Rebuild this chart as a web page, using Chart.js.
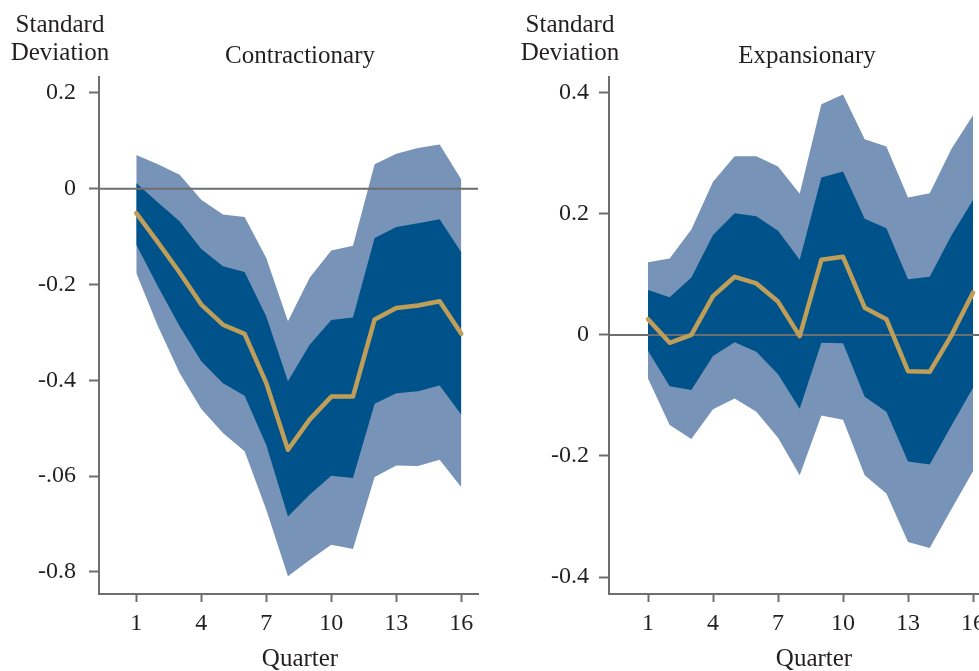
<!DOCTYPE html>
<html>
<head>
<meta charset="utf-8">
<script src="https://cdn.jsdelivr.net/npm/chart.js@4"></script>
<style>
  html, body { margin: 0; padding: 0; width: 979px; height: 671px; overflow: hidden; background: #fff; }
  body { position: relative; font-family: "Liberation Serif", serif; color: #231f20; }
  canvas { position: absolute; top: 0; }
  .lbl { position: absolute; font-size: 25px; line-height: 28px; text-align: center; white-space: nowrap; }
</style>
</head>
<body>
<canvas id="contractionary" width="490" height="671" style="left:0"></canvas>
<canvas id="expansionary" width="490" height="671" style="left:510px"></canvas>

<div class="lbl" style="left:0;width:120px;top:10px">Standard<br>Deviation</div>
<div class="lbl" style="left:200px;width:200px;top:41px">Contractionary</div>
<div class="lbl" style="left:200px;width:200px;top:644px">Quarter</div>

<div class="lbl" style="left:510px;width:120px;top:10px">Standard<br>Deviation</div>
<div class="lbl" style="left:707px;width:200px;top:41px">Expansionary</div>
<div class="lbl" style="left:714px;width:200px;top:644px">Quarter</div>

<script>
// quarters after the shock
const quarters = [1, 2, 3, 4, 5, 6, 7, 8, 9, 10, 11, 12, 13, 14, 15, 16];
const xTicks = [1, 4, 7, 10, 13, 16];

// contractionary shock: response and confidence bands
const conOuterUpper = [0.070, 0.051, 0.029, -0.023, -0.054, -0.059, -0.145, -0.277, -0.186, -0.129, -0.119, 0.051, 0.073, 0.085, 0.092, 0.019];
const conInnerUpper = [0.012, -0.029, -0.068, -0.126, -0.162, -0.174, -0.267, -0.402, -0.326, -0.274, -0.269, -0.103, -0.080, -0.072, -0.064, -0.133];
const conResponse   = [-0.051, -0.112, -0.175, -0.242, -0.284, -0.303, -0.406, -0.545, -0.482, -0.434, -0.434, -0.273, -0.249, -0.244, -0.235, -0.303];
const conInnerLower = [-0.117, -0.204, -0.287, -0.360, -0.406, -0.432, -0.535, -0.684, -0.639, -0.599, -0.604, -0.449, -0.427, -0.423, -0.411, -0.472];
const conOuterLower = [-0.176, -0.287, -0.385, -0.460, -0.510, -0.548, -0.670, -0.809, -0.775, -0.743, -0.752, -0.602, -0.578, -0.579, -0.566, -0.623];
const conYTicks  = [0.2, 0, -0.2, -0.4, -0.6, -0.8];
const conYLabels = ["0.2", "0", "-0.2", "-0.4", "-.06", "-0.8"];

// expansionary shock
const expOuterUpper = [0.120, 0.126, 0.174, 0.253, 0.295, 0.295, 0.278, 0.233, 0.381, 0.397, 0.323, 0.311, 0.227, 0.234, 0.307, 0.363];
const expInnerUpper = [0.074, 0.062, 0.095, 0.165, 0.201, 0.196, 0.172, 0.124, 0.260, 0.270, 0.192, 0.176, 0.092, 0.096, 0.164, 0.223];
const expResponse   = [0.026, -0.013, 0.000, 0.064, 0.096, 0.085, 0.055, -0.002, 0.124, 0.129, 0.045, 0.026, -0.060, -0.061, -0.001, 0.070];
const expInnerLower = [-0.026, -0.085, -0.091, -0.035, -0.012, -0.028, -0.065, -0.122, -0.013, -0.014, -0.102, -0.127, -0.209, -0.214, -0.150, -0.087];
const expOuterLower = [-0.072, -0.149, -0.172, -0.123, -0.105, -0.127, -0.170, -0.232, -0.133, -0.140, -0.232, -0.262, -0.342, -0.352, -0.288, -0.225];
const expYTicks  = [0.4, 0.2, 0, -0.2, -0.4];
const expYLabels = ["0.4", "0.2", "0", "-0.2", "-0.4"];

const LIGHT = "#7893b8";
const DARK = "#00538a";
const GOLD = "#be9e58";
const GREY = "#6d6e71";
const TEXT = "#231f20";

const pts = vals => vals.map((v, i) => ({ x: quarters[i], y: v }));

// grey line at zero, drawn under the response line
const zeroLine = {
  id: "zeroLine",
  beforeDatasetDraw(chart, args) {
    if (args.index !== 4) return;
    const y = chart.scales.y.getPixelForValue(0);
    const ctx = chart.ctx;
    ctx.save();
    ctx.strokeStyle = GREY;
    ctx.lineWidth = 2;
    ctx.beginPath();
    ctx.moveTo(chart.chartArea.left, y);
    ctx.lineTo(chart.chartArea.right, y);
    ctx.stroke();
    ctx.restore();
  }
};

function band(data, fill, color, order) {
  return {
    data: pts(data), fill: fill, backgroundColor: color,
    borderWidth: 0, pointRadius: 0, tension: 0, order: order
  };
}

function makeChart(id, s, yMin, yMax, xMin, xMax, yTicks, yLabels, labelPad) {
  new Chart(document.getElementById(id), {
    type: "line",
    data: {
      datasets: [
        band(s[0], 1, LIGHT, 4),
        band(s[4], false, LIGHT, 4),
        band(s[1], 3, DARK, 3),
        band(s[3], false, DARK, 3),
        {
          data: pts(s[2]), borderColor: GOLD, borderWidth: 4.5,
          pointRadius: 0, tension: 0, fill: false, order: 0,
          borderJoinStyle: "round", borderCapStyle: "round"
        }
      ]
    },
    options: {
      responsive: false,
      animation: false,
      layout: { padding: { left: 0, top: 77, right: 12, bottom: 0 } },
      plugins: { legend: { display: false }, tooltip: { enabled: false } },
      scales: {
        x: {
          type: "linear", min: xMin, max: xMax,
          afterBuildTicks: axis => { axis.ticks = xTicks.map(v => ({ value: v })); },
          afterFit: axis => { axis.height = 77; },
          border: { display: true, color: GREY, width: 2 },
          grid: { drawOnChartArea: false, drawTicks: true, tickLength: 8, tickColor: GREY, tickWidth: 2 },
          ticks: { color: TEXT, padding: 7, maxRotation: 0, font: { family: "Liberation Serif", size: 24 } }
        },
        y: {
          min: yMin, max: yMax,
          afterBuildTicks: axis => { axis.ticks = yTicks.map(v => ({ value: v })); },
          afterFit: axis => { axis.width = 99; },
          border: { display: true, color: GREY, width: 2 },
          grid: { drawOnChartArea: false, drawTicks: true, tickLength: 10, tickColor: GREY, tickWidth: 2 },
          ticks: {
            color: TEXT, padding: labelPad,
            font: { family: "Liberation Serif", size: 24 },
            callback: (v, i) => yLabels[i]
          }
        }
      }
    },
    plugins: [zeroLine]
  });
}

makeChart("contractionary",
  [conOuterUpper, conInnerUpper, conResponse, conInnerLower, conOuterLower],
  -0.846, 0.233, -0.72, 16.77, conYTicks, conYLabels, 13);

makeChart("expansionary",
  [expOuterUpper, expInnerUpper, expResponse, expInnerLower, expOuterLower],
  -0.428, 0.426, -0.8, 16.69, expYTicks, expYLabels, 10);
</script>
</body>
</html>
